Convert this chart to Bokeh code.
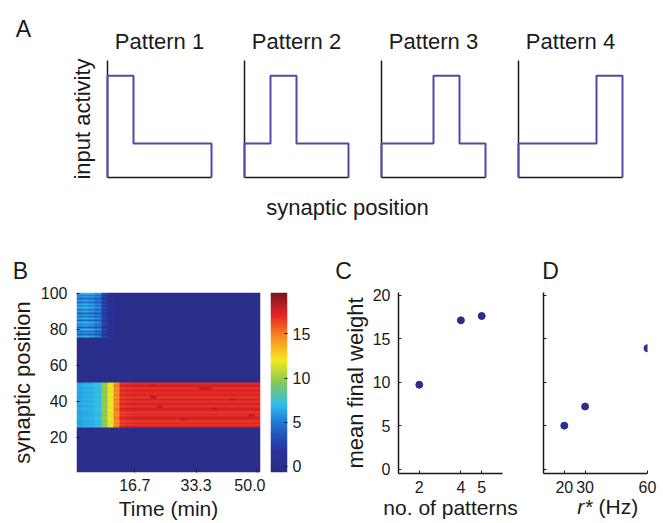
import numpy as np
from bokeh.plotting import figure
from bokeh.layouts import row, column
from bokeh.models import Range1d, FixedTicker, Label, LinearColorMapper, GridBox, Spacer
from bokeh.embed import file_html
from bokeh.resources import INLINE

FONT = "Liberation Sans"
TXT = "#1a1a1a"
AXC = "#1a1a1a"
PAGE_W, PAGE_H = 663, 523

# ---------------- Panel A data ----------------
pattern_names = ["Pattern 1", "Pattern 2", "Pattern 3", "Pattern 4"]
segment_edges = [0, 25, 50, 75, 100]
pattern_levels = [
    [3, 1, 1, 1],
    [1, 3, 1, 1],
    [1, 1, 3, 1],
    [1, 1, 1, 3],
]

# ---------------- Panel B data ----------------
bin_minutes = 5.0 / 3.0          # 30 time bins over 50 min
n_synapses = 100
band_rows = (26, 50)             # synaptic positions of the strengthened group
top_rows = (76, 100)             # synaptic positions of the group that decays
band_weight = [6.2, 6.4, 6.6, 7.0, 9.6, 11.8, 14.6, 16.8, 17.0, 17.1,
               17.1, 17.1, 17.1, 17.1, 17.1, 17.1, 17.1, 17.1, 17.1, 17.1,
               17.1, 17.1, 17.1, 17.1, 17.1, 17.1, 17.1, 17.1, 17.1, 17.1]
top_weight = [5.6, 5.9, 5.6, 4.9, 2.4, 1.0, 0.3, 0.0, 0.0, 0.0,
              0.0, 0.0, 0.0, 0.0, 0.0, 0.0, 0.0, 0.0, 0.0, 0.0,
              0.0, 0.0, 0.0, 0.0, 0.0, 0.0, 0.0, 0.0, 0.0, 0.0]
band_row_contrast = [0.03, -0.02, 0.04, -0.03, 0.01, 0.04, -0.02, 0.03, -0.03, 0.02,
                     0.04, -0.02, 0.01, 0.03, -0.02, 0.03, -0.03, 0.04, 0.01, -0.01,
                     0.03, -0.02, 0.02, 0.04, -0.01]
top_row_contrast = [0.15, -0.30, 0.10, -0.22, 0.18, -0.32, 0.06, -0.16, 0.20, -0.28,
                    0.12, -0.18, 0.22, -0.30, 0.08, -0.14, 0.18, -0.26, 0.14, -0.20,
                    0.05, -0.28, 0.16, -0.10, 0.24]
speckle_bins = [13, 13, 14, 21, 22, 23, 29, 26, 18]
speckle_rows = [49, 42, 37, 47, 47, 36, 32, 41, 30]
speckle_value = 18.3
cbar_low, cbar_high = -0.7, 19.7
cbar_ticks = [0, 5, 10, 15]
time_ticks = [50 / 3, 100 / 3, 50.0]
time_tick_labels = ["16.7", "33.3", "50.0"]
pos_ticks = [20, 40, 60, 80, 100]

# ---------------- Panels C, D data ----------------
n_patterns = [2, 4, 5]
weight_vs_patterns = [9.7, 17.1, 17.6]
r_star_hz = [20, 30, 60]
weight_vs_rstar = [5.0, 7.2, 13.9]
weight_ticks = [0, 5, 10, 15, 20]

# ---------------- colour map (jet-like) ----------------
cmap_stops = [0.0, 0.11, 0.2, 0.28, 0.375, 0.5, 0.625, 0.75, 0.875, 1.0]
cmap_rgb = [(40, 44, 132), (42, 50, 152), (36, 80, 182), (32, 122, 212), (48, 190, 235),
            (132, 200, 88), (246, 232, 32), (245, 142, 36), (232, 36, 40), (122, 22, 26)]
palette = []
for t in np.linspace(0, 1, 256):
    rgb = [int(round(np.interp(t, cmap_stops, [c[i] for c in cmap_rgb]))) for i in range(3)]
    palette.append("#%02x%02x%02x" % tuple(rgb))
mapper = LinearColorMapper(palette=palette, low=cbar_low, high=cbar_high)


def base_fig(**kw):
    p = figure(output_backend="svg", toolbar_location=None, **kw)
    p.outline_line_color = None
    p.background_fill_color = "white"
    p.border_fill_color = "white"
    for g in p.grid:
        g.visible = False
    return p


def style_axis(ax, label_size="16px"):
    ax.major_label_text_font = FONT
    ax.major_label_text_font_size = label_size
    ax.major_label_text_color = TXT
    ax.axis_label_text_font = FONT
    ax.axis_label_text_font_size = "22px"
    ax.axis_label_text_font_style = "normal"
    ax.axis_label_text_color = TXT
    ax.axis_line_color = AXC
    ax.axis_line_width = 1.5
    ax.major_tick_line_color = AXC
    ax.minor_tick_line_color = None


# transparent overlay that carries the free-standing texts (page coordinates)
overlay = figure(width=PAGE_W, height=PAGE_H, x_range=Range1d(0, PAGE_W), y_range=Range1d(0, PAGE_H),
                 min_border=0, x_axis_type=None, y_axis_type=None,
                 output_backend="svg", toolbar_location=None)
overlay.outline_line_color = None
overlay.border_fill_color = None
overlay.background_fill_color = None


def add_text(x, y_mid, text, size="22px", align="center", style="normal"):
    overlay.add_layout(Label(x=x, y=PAGE_H - y_mid, x_units="screen", y_units="screen", text=text,
                             text_font=FONT, text_font_size=size, text_color=TXT,
                             text_align=align, text_baseline="middle", text_font_style=style))


# ---------------- Panel A ----------------
borders = [(47, 16), (17, 16), (17, 16), (17, 41)]
top_items = [Spacer(width=60, height=198)]
for i, (name, levels) in enumerate(zip(pattern_names, pattern_levels)):
    L, R = borders[i]
    p = base_fig(frame_width=104, frame_height=117, min_border_left=L, min_border_right=R,
                 min_border_top=60, min_border_bottom=21,
                 x_range=Range1d(0, 100), y_range=Range1d(0, 3.45), title=name)
    p.title.text_font = FONT
    p.title.text_font_size = "22px"
    p.title.text_font_style = "normal"
    p.title.text_color = TXT
    p.title.align = "center"
    p.title.standoff = 14
    for ax in (p.xaxis[0], p.yaxis[0]):
        style_axis(ax)
        ax.ticker = FixedTicker(ticks=[])
    xs = [segment_edges[0]] + segment_edges
    ys = [0] + levels + [0]
    p.step(xs, ys, mode="after", line_color="#4b4bab", line_width=2, level="overlay")
    if i == 0:
        p.yaxis.axis_label = "input activity"
        p.yaxis.axis_label_standoff = 13
    top_items.append(p)

add_text(23, 28, "A", size="23px")
add_text(347, 207, "synaptic position")
add_text(20, 270, "B", size="23px")
add_text(343, 270, "C", size="23px")
add_text(550, 270, "D", size="23px")

# ---------------- Panel B ----------------
W = np.zeros((n_synapses, len(band_weight)))
b0, b1 = band_rows
t0, t1 = top_rows
W[b0 - 1:b1, :] = np.array(band_weight)[None, :] * (1 + np.array(band_row_contrast)[:, None])
W[t0 - 1:t1, :] = np.array(top_weight)[None, :] * (1 + np.array(top_row_contrast)[:, None])
for c, r in zip(speckle_bins, speckle_rows):
    W[r - 1, c - 1] = speckle_value

x_lo = bin_minutes / 2
pB = base_fig(frame_width=184, frame_height=180, min_border_left=76, min_border_right=5,
              min_border_top=10, min_border_bottom=30,
              x_range=Range1d(x_lo, x_lo + bin_minutes * len(band_weight)),
              y_range=Range1d(0.5, n_synapses + 0.5))
pB.image(image=[W], x=x_lo, y=0.5, dw=bin_minutes * len(band_weight), dh=n_synapses,
         color_mapper=mapper)
for ax in (pB.xaxis[0], pB.yaxis[0]):
    style_axis(ax)
    ax.axis_line_color = None
    ax.major_tick_in = 3
    ax.major_tick_out = 0
pB.xaxis.ticker = FixedTicker(ticks=time_ticks)
pB.xaxis.major_label_overrides = {t: s for t, s in zip(time_ticks, time_tick_labels)}
pB.xaxis.major_label_standoff = 6
pB.yaxis.ticker = FixedTicker(ticks=pos_ticks)
pB.yaxis.major_label_standoff = 9
pB.yaxis.axis_label = "synaptic position"
pB.yaxis.axis_label_standoff = 3
add_text(168, 508, "Time (min)", size="21px")

pCB = base_fig(frame_width=17, frame_height=180, min_border_left=5, min_border_right=43,
               min_border_top=10, min_border_bottom=30,
               x_range=Range1d(0, 1), y_range=Range1d(cbar_low, cbar_high),
               x_axis_type=None, y_axis_location="right")
ramp = np.linspace(cbar_low, cbar_high, 256).reshape(256, 1)
pCB.image(image=[ramp], x=0, y=cbar_low, dw=1, dh=cbar_high - cbar_low, color_mapper=mapper)
style_axis(pCB.yaxis[0])
pCB.yaxis.axis_line_color = None
pCB.yaxis.major_tick_in = 3
pCB.yaxis.major_tick_out = 0
pCB.yaxis.major_label_standoff = 5
pCB.yaxis.ticker = FixedTicker(ticks=cbar_ticks)

# ---------------- Panel C ----------------
pC = base_fig(frame_width=104, frame_height=181, min_border_left=68, min_border_right=28,
              min_border_top=8, min_border_bottom=31,
              x_range=Range1d(1, 6), y_range=Range1d(-0.5, 20.3))
pC.scatter(n_patterns, weight_vs_patterns, size=7, color="#2b2e8f")
for ax in (pC.xaxis[0], pC.yaxis[0]):
    style_axis(ax)
    ax.major_tick_in = 3
    ax.major_tick_out = 0
pC.xaxis.ticker = FixedTicker(ticks=n_patterns)
pC.xaxis.major_label_standoff = 7
pC.yaxis.ticker = FixedTicker(ticks=weight_ticks)
pC.yaxis.major_label_standoff = 8
pC.yaxis.axis_label = "mean final weight"
pC.yaxis.axis_label_standoff = 2
add_text(450, 507, "no. of patterns", size="21px")

# ---------------- Panel D ----------------
pD = base_fig(frame_width=104, frame_height=181, min_border_left=13, min_border_right=16,
              min_border_top=8, min_border_bottom=31,
              x_range=Range1d(10, 60), y_range=Range1d(-0.5, 20.3))
pD.scatter(r_star_hz, weight_vs_rstar, size=7, color="#2b2e8f")
for ax in (pD.xaxis[0], pD.yaxis[0]):
    style_axis(ax)
    ax.major_tick_in = 3
    ax.major_tick_out = 0
pD.xaxis.ticker = FixedTicker(ticks=r_star_hz)
pD.xaxis.major_label_standoff = 7
pD.yaxis.ticker = FixedTicker(ticks=weight_ticks)
pD.yaxis.major_label_overrides = {t: "" for t in weight_ticks}
pD.yaxis.major_label_standoff = 0
add_text(592, 506, "r*", size="21px", align="right", style="italic")
add_text(598, 506, "(Hz)", size="21px", align="left")

main = column(row(*top_items), Spacer(width=PAGE_W, height=84), row(pB, pCB, pC, pD))
layout = GridBox(children=[(main, 0, 0), (overlay, 0, 0)])
open("out.html", "w").write(file_html(layout, INLINE))
